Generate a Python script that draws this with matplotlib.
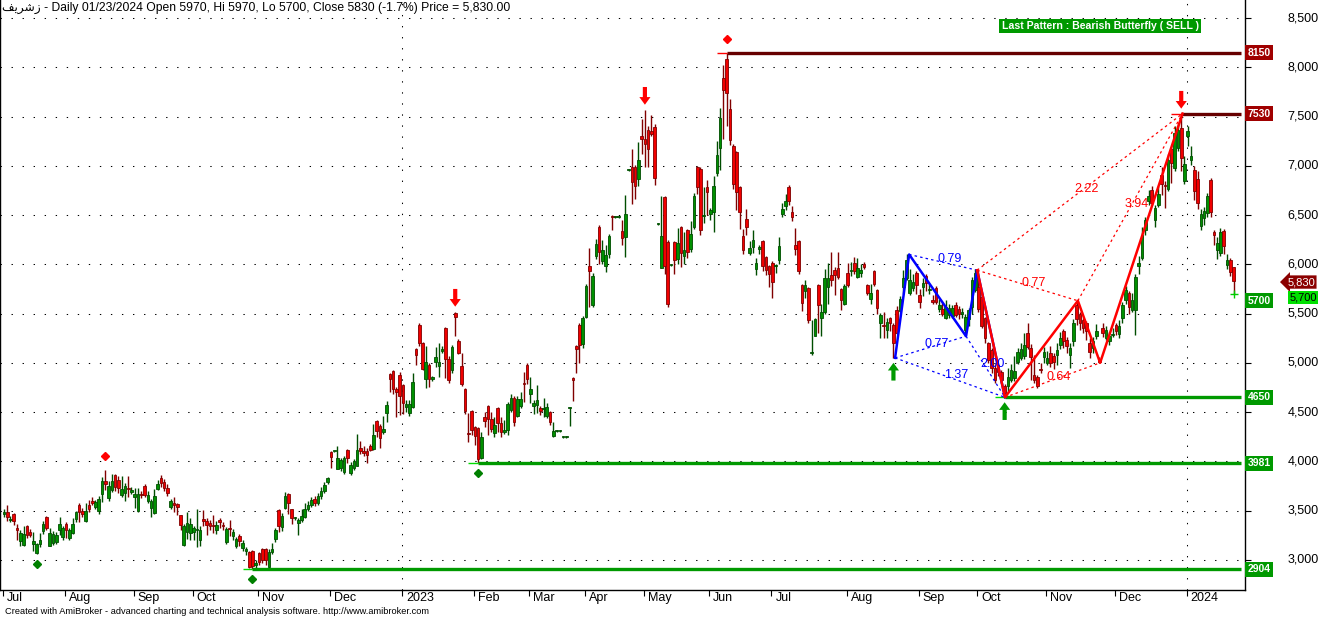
import numpy as np
import matplotlib
matplotlib.use("Agg")
import matplotlib.pyplot as plt
import matplotlib.transforms as mtransforms

plt.rcParams['font.family'] = ['Liberation Sans', 'DejaVu Sans']

# daily OHLC, Jul 2022 .. 23 Jan 2024
opens = [
    3470, 3490, 3400, 3470, 3320, 3190, 3150, 3340, 3280, 3160,
    3070, 3160, 3290, 3440, 3140, 3170, 3180, 3300, 3230, 3360,
    3220, 3270, 3410, 3560, 3500, 3390, 3560, 3600, 3540, 3500,
    3670, 3800, 3630, 3710, 3860, 3810, 3660, 3680, 3730, 3690,
    3640, 3500, 3670, 3750, 3600, 3530, 3480, 3720, 3830, 3790,
    3730, 3540, 3580, 3570, 3460, 3150, 3280, 3270, 3280, 3300,
    3200, 3410, 3390, 3370, 3350, 3300, 3400, 3350, 3180, 3320,
    3240, 3140, 3240, 3120, 3090, 3080, 3090, 2950, 3070, 3110,
    3110, 2930, 3080, 3210, 3510, 3330, 3530, 3670, 3520, 3420,
    3370, 3400, 3440, 3520, 3560, 3620, 3580, 3650, 3700, 3790,
    4090, 4100, 3920, 3930, 3890, 4120, 3880, 3930, 3950, 4140,
    4100, 4100, 4160, 4130, 4410, 4360, 4300, 4490, 4890, 4920,
    4730, 4880, 4770, 4550, 4490, 4550, 5140, 5380, 5200, 4840,
    4980, 4840, 5010, 4970, 5120, 5350, 5040, 4930, 5510, 5220,
    4970, 4730, 4290, 4510, 4350, 4340, 4030, 4450, 4560, 4430,
    4290, 4540, 4390, 4300, 4320, 4520, 4640, 4460, 4560, 4790,
    4980, 4680, 4560, 4570, 4540, 4530, 4460, 4500, 4260, 4310,
    4310, 4250, 4250, 4540, 4850, 5170, 5380, 5190, 5470, 5980,
    5590, 6080, 6380, 6030, 5980, 6100, 6490, 6480, 6480, 6340,
    6280, 6960, 6990, 6990, 6870, 7300, 7270, 7360, 7350, 7390,
    6410, 5960, 6680, 6230, 5990, 6230, 6050, 6380, 6080, 6350,
    6160, 6380, 6990, 6970, 6490, 6780, 6510, 6530, 6930, 7180,
    7890, 8080, 7580, 7200, 7140, 6780, 6290, 6460, 6110, 6180,
    5950, 6160, 6240, 6070, 5980, 6010, 5980, 6040, 6510, 6590,
    6780, 6530, 6200, 6240, 5790, 5730, 5760, 5100, 5270, 5790,
    5450, 5520, 5770, 5890, 5940, 5960, 5750, 5600, 5910, 5930,
    6010, 5870, 5910, 6000, 5790, 5650, 5930, 5740, 5400, 5380,
    5330, 5460, 5380, 5540, 5530, 5770, 5860, 5710, 5760, 5910,
    5690, 5770, 5880, 5740, 5640, 5760, 5550, 5550, 5460, 5490,
    5480, 5590, 5550, 5500, 5330, 5440, 5570, 5740, 5770, 5670,
    5450, 5200, 5130, 4950, 4980, 4910, 4760, 4760, 4830, 4850,
    5010, 5050, 5070, 5300, 5150, 4880, 4860, 4940, 5060, 5000,
    5100, 5070, 5080, 5180, 5320, 5230, 5080, 5220, 5590, 5500,
    5430, 5400, 5200, 5150, 5270, 5030, 5350, 5250, 5220, 5280,
    5380, 5290, 5450, 5640, 5710, 5540, 5540, 5980, 6060, 6350,
    6640, 6750, 6450, 6600, 6910, 6810, 6760, 7170, 6980, 7180,
    7380, 6850, 7300, 7060, 6960, 6870, 6390, 6470, 6520, 6860,
    6330, 6150, 6110, 6340, 5990, 6040, 5970,
]
highs = [
    3520, 3560, 3450, 3480, 3360, 3300, 3340, 3350, 3310, 3280,
    3170, 3270, 3390, 3450, 3320, 3290, 3280, 3440, 3340, 3380,
    3320, 3420, 3500, 3580, 3530, 3580, 3610, 3640, 3610, 3650,
    3840, 3910, 3800, 3870, 3870, 3850, 3850, 3780, 3850, 3740,
    3730, 3730, 3700, 3770, 3700, 3620, 3720, 3810, 3860, 3820,
    3770, 3620, 3640, 3580, 3460, 3360, 3490, 3420, 3340, 3520,
    3340, 3510, 3420, 3400, 3460, 3390, 3420, 3380, 3330, 3400,
    3310, 3230, 3260, 3200, 3130, 3090, 3100, 3000, 3080, 3120,
    3120, 3110, 3170, 3320, 3520, 3480, 3690, 3680, 3520, 3440,
    3420, 3520, 3580, 3600, 3640, 3650, 3680, 3740, 3790, 3840,
    4100, 4110, 4160, 4030, 4050, 4130, 3990, 4020, 4280, 4210,
    4160, 4140, 4180, 4380, 4420, 4380, 4460, 4610, 4900, 4930,
    4750, 4910, 4790, 4620, 4620, 4900, 5150, 5400, 5210, 5170,
    5000, 4870, 5160, 5200, 5170, 5360, 5070, 5180, 5520, 5240,
    5100, 4740, 4490, 4520, 4360, 4350, 4300, 4500, 4570, 4500,
    4450, 4550, 4450, 4420, 4600, 4680, 4660, 4660, 4700, 4910,
    5000, 4860, 4620, 4770, 4560, 4640, 4590, 4510, 4400, 4320,
    4320, 4260, 4260, 4550, 4860, 5180, 5400, 5480, 5800, 6170,
    5910, 6260, 6400, 6250, 6200, 6310, 6500, 6490, 6490, 6450,
    6700, 6970, 7170, 7010, 7240, 7470, 7570, 7400, 7520, 7420,
    6420, 6690, 6690, 6250, 6000, 6240, 6370, 6390, 6330, 6360,
    6440, 6720, 7000, 6990, 6780, 6860, 6570, 6900, 7250, 7590,
    8020, 8150, 7680, 7220, 7150, 6790, 6360, 6560, 6240, 6350,
    6060, 6200, 6250, 6080, 5990, 6030, 6000, 6280, 6620, 6710,
    6810, 6590, 6370, 6250, 5800, 5840, 5770, 5430, 5450, 5800,
    5600, 5950, 6010, 6120, 5970, 6130, 5760, 5800, 6010, 6020,
    6070, 6060, 6000, 6020, 5800, 5800, 5940, 5750, 5510, 5520,
    5450, 5470, 5400, 5580, 5680, 5940, 6100, 5950, 5900, 5930,
    5750, 5860, 5900, 5800, 5690, 5780, 5650, 5610, 5640, 5600,
    5590, 5620, 5580, 5560, 5500, 5560, 5870, 5950, 5940, 5700,
    5470, 5210, 5150, 4990, 5000, 4930, 4780, 4950, 4990, 5070,
    5150, 5200, 5300, 5400, 5190, 5080, 4880, 5000, 5160, 5120,
    5170, 5100, 5200, 5310, 5340, 5260, 5200, 5440, 5630, 5520,
    5460, 5420, 5250, 5260, 5390, 5060, 5400, 5370, 5310, 5350,
    5400, 5430, 5620, 5780, 5730, 5710, 5900, 6080, 6380, 6480,
    6750, 6800, 6600, 6790, 6990, 6850, 7120, 7190, 7400, 7420,
    7530, 7100, 7400, 7200, 7000, 6950, 6560, 6580, 6720, 6880,
    6350, 6280, 6370, 6360, 6100, 6060, 5970,
]
lows = [
    3440, 3390, 3380, 3350, 3200, 3140, 3140, 3220, 3230, 3090,
    3060, 3130, 3260, 3300, 3140, 3150, 3160, 3250, 3200, 3220,
    3200, 3260, 3380, 3380, 3430, 3380, 3490, 3560, 3520, 3470,
    3590, 3710, 3600, 3690, 3700, 3680, 3640, 3600, 3640, 3670,
    3530, 3490, 3630, 3640, 3580, 3440, 3470, 3710, 3740, 3700,
    3650, 3520, 3490, 3460, 3300, 3140, 3210, 3200, 3200, 3130,
    3140, 3340, 3250, 3300, 3270, 3260, 3320, 3300, 3160, 3240,
    3200, 3120, 3140, 3090, 3050, 2920, 2904, 2920, 2950, 2970,
    2950, 2920, 3060, 3180, 3280, 3290, 3520, 3470, 3360, 3400,
    3250, 3380, 3420, 3500, 3540, 3550, 3560, 3620, 3680, 3770,
    3930, 4090, 3920, 3900, 3870, 3980, 3860, 3910, 3950, 4070,
    4050, 3980, 4100, 4120, 4250, 4140, 4280, 4400, 4700, 4680,
    4450, 4470, 4480, 4500, 4460, 4540, 4980, 5170, 4930, 4740,
    4750, 4820, 4960, 4860, 5100, 4850, 4800, 4900, 5270, 5090,
    4760, 4480, 4200, 4270, 4170, 3981, 4020, 4350, 4270, 4300,
    4250, 4300, 4250, 4280, 4270, 4500, 4360, 4450, 4540, 4600,
    4780, 4590, 4480, 4490, 4470, 4450, 4440, 4370, 4250, 4300,
    4300, 4240, 4240, 4360, 4610, 4900, 5000, 5150, 5450, 5570,
    5570, 6050, 6000, 6000, 5920, 6060, 6350, 6470, 6470, 6200,
    6070, 6950, 6610, 6660, 6800, 7120, 6990, 6990, 7300, 6810,
    6400, 5960, 5900, 5570, 5980, 5900, 6000, 5970, 6000, 6060,
    6130, 6360, 6710, 6300, 6420, 6500, 6450, 6330, 6900, 6960,
    7270, 7400, 7210, 6760, 6550, 6360, 6100, 6300, 6090, 6110,
    5890, 6100, 5930, 5890, 5770, 5660, 5910, 6000, 6480, 6550,
    6600, 6440, 6090, 5900, 5530, 5660, 5400, 5080, 5270, 5300,
    5270, 5500, 5600, 5780, 5690, 5850, 5540, 5590, 5770, 5880,
    5900, 5860, 5870, 5950, 5690, 5600, 5780, 5500, 5250, 5250,
    5250, 5320, 5050, 5290, 5520, 5700, 5840, 5690, 5730, 5700,
    5560, 5680, 5730, 5700, 5600, 5600, 5520, 5480, 5440, 5460,
    5450, 5470, 5440, 5460, 5270, 5370, 5500, 5720, 5520, 5350,
    5200, 5000, 4900, 4800, 4870, 4800, 4650, 4700, 4810, 4820,
    4990, 5030, 5040, 5140, 4830, 4800, 4740, 4900, 5000, 4980,
    4960, 4940, 4980, 5140, 5150, 5100, 4950, 5170, 5380, 5330,
    5300, 5230, 5050, 5100, 5240, 5000, 5260, 5230, 5180, 5260,
    5280, 5250, 5400, 5600, 5500, 5520, 5280, 5900, 6040, 6300,
    6600, 6600, 6380, 6580, 6700, 6570, 6740, 6830, 6950, 7150,
    6950, 6820, 7200, 7010, 6650, 6560, 6350, 6400, 6480, 6480,
    6200, 6050, 6080, 6100, 5950, 5880, 5700,
]
closes = [
    3490, 3430, 3415, 3390, 3300, 3270, 3260, 3250, 3250, 3190,
    3160, 3200, 3360, 3320, 3270, 3260, 3250, 3360, 3320, 3300,
    3300, 3360, 3490, 3490, 3470, 3500, 3520, 3580, 3590, 3620,
    3800, 3770, 3750, 3800, 3740, 3730, 3720, 3750, 3720, 3710,
    3670, 3670, 3660, 3660, 3660, 3600, 3650, 3770, 3780, 3730,
    3680, 3600, 3560, 3540, 3350, 3340, 3370, 3360, 3320, 3310,
    3300, 3390, 3350, 3340, 3340, 3350, 3380, 3340, 3310, 3310,
    3280, 3210, 3190, 3170, 3110, 2930, 2940, 2970, 2980, 3000,
    3000, 3080, 3110, 3300, 3340, 3450, 3650, 3580, 3420, 3420,
    3400, 3450, 3520, 3560, 3610, 3580, 3650, 3700, 3760, 3830,
    4040, 4100, 4030, 4010, 4030, 4030, 3960, 4000, 4120, 4110,
    4080, 4060, 4120, 4270, 4310, 4240, 4330, 4570, 4840, 4730,
    4700, 4660, 4590, 4580, 4580, 4810, 5080, 5200, 4940, 5010,
    4840, 4840, 5060, 5010, 5140, 5040, 4830, 5160, 5470, 5100,
    4790, 4510, 4280, 4320, 4260, 4020, 4250, 4410, 4430, 4330,
    4370, 4390, 4300, 4320, 4580, 4640, 4400, 4630, 4630, 4780,
    4840, 4730, 4590, 4620, 4510, 4540, 4550, 4400, 4310, 4310,
    4310, 4250, 4250, 4540, 4830, 5140, 5180, 5460, 5780, 5930,
    5880, 6210, 6130, 6150, 6090, 6290, 6480, 6480, 6480, 6270,
    6510, 6960, 6840, 6800, 7060, 7270, 7220, 7170, 7320, 6880,
    6410, 6290, 5980, 5600, 5990, 6040, 6220, 6110, 6150, 6130,
    6310, 6690, 6780, 6350, 6500, 6730, 6550, 6790, 7110, 7490,
    7770, 7740, 7260, 6820, 6730, 6530, 6150, 6380, 6170, 6250,
    6010, 6160, 5980, 5940, 5900, 5820, 5980, 6190, 6560, 6640,
    6640, 6480, 6160, 5930, 5610, 5790, 5430, 5110, 5440, 5590,
    5520, 5860, 5860, 5840, 5890, 5870, 5640, 5780, 5790, 5930,
    5930, 5960, 5940, 5970, 5710, 5710, 5800, 5560, 5490, 5370,
    5410, 5400, 5200, 5300, 5650, 5860, 6040, 5840, 5820, 5790,
    5620, 5810, 5810, 5740, 5620, 5620, 5590, 5500, 5570, 5560,
    5560, 5490, 5500, 5520, 5470, 5540, 5840, 5910, 5550, 5370,
    5250, 5030, 4950, 4830, 4910, 4830, 4690, 4860, 4930, 4920,
    5110, 5140, 5180, 5160, 5060, 4830, 4760, 4930, 5110, 5050,
    5000, 5010, 5130, 5250, 5220, 5170, 5150, 5400, 5440, 5400,
    5350, 5320, 5110, 5220, 5320, 5010, 5300, 5330, 5270, 5290,
    5320, 5370, 5590, 5740, 5570, 5640, 5870, 6010, 6300, 6450,
    6690, 6620, 6570, 6710, 6820, 6790, 7060, 7030, 7330, 7360,
    7080, 7020, 7350, 7100, 6740, 6620, 6510, 6540, 6690, 6530,
    6300, 6220, 6330, 6190, 6040, 5920, 5830,
]

# first bar of each month
month_idx = [0, 19, 40, 58, 78, 100, 122, 144, 161, 178, 196, 216, 235, 258, 280, 298, 319, 340, 362]
month_lbl = ['Jul', 'Aug', 'Sep', 'Oct', 'Nov', 'Dec', '2023', 'Feb', 'Mar', 'Apr', 'May', 'Jun',
             'Jul', 'Aug', 'Sep', 'Oct', 'Nov', 'Dec', '2024']
year_idx = [122, 362]

# support / resistance levels: value, first bar, colour
level_vals = [8150, 7530, 4650, 3981, 2904]
level_start = [221, 360, 306, 145, 76]
level_col = ['#660000', '#660000', '#009900', '#009900', '#009900']

# swing markers
peak_idx = [31, 138, 196, 221, 360]
peak_kind = ['diamond', 'arrow', 'arrow', 'diamond', 'arrow']
trough_idx = [10, 76, 145, 272, 306]
trough_kind = ['diamond', 'diamond', 'diamond', 'arrow', 'arrow']

# harmonic patterns X, A, B, C, D
blue_idx = [272.5, 276.8, 294.2, 297.6, 306.1]
blue_val = [5050, 6100, 5270, 5940, 4650]
blue_ratio = ['0.77', '0.79', '2.00', '1.37']
red_idx = [297.6, 306.1, 328.4, 335.2, 360.4]
red_val = [5940, 4650, 5630, 5000, 7530]
red_ratio = ['0.77', '0.64', '3.94', '2.22']

title = ('\ufed2\ufbfe\ufeae\ufeb7\ufeaf - Daily 01/23/2024 Open 5970, Hi 5970, Lo 5700, '
         'Close 5830 (-1.7%) Price = 5,830.00')

W, H = 1336, 619
fig = plt.figure(figsize=(W / 100, H / 100), dpi=100)
fig.patch.set_facecolor('white')
ax = fig.add_axes([0, 29 / H, 1245 / W, 590 / H])
ax.set_xlim(-1.2, 379.5)
ax.set_ylim(2694, 8683)

o = np.array(opens, float)
hi = np.array(highs, float)
lo = np.array(lows, float)
c = np.array(closes, float)
x = np.arange(len(c))
up = c >= o
face = np.where(up, '#009000', '#f00000')
edge = np.where(up, '#004d00', '#800000')

# grid
for p in range(3000, 8501, 500):
    ax.axhline(p, color='black', lw=0.75, ls=(0, (1.3, 9.3)), zorder=0)
for yi in year_idx:
    ax.axvline(yi - 0.3, color='black', lw=0.75, ls=(0, (1.3, 9.3)), zorder=0)

# candles
ax.vlines(x, lo, hi, colors=edge, lw=1.0, zorder=2)
ax.bar(x, np.maximum(np.abs(c - o), 12), bottom=np.minimum(o, c), width=0.8,
       color=face, edgecolor=edge, linewidth=0.6, zorder=3)

# levels
for v, s, col in zip(level_vals, level_start, level_col):
    ax.hlines(v, s, 378.3, color=col, lw=2.4, zorder=4)
    thin = '#ff0000' if col == '#660000' else '#00dd00'
    ax.hlines(v, s - 3, s, color=thin, lw=1.0, zorder=4)

blend = mtransforms.blended_transform_factory(fig.transFigure, ax.transData)
tag_vals = level_vals + [5700]
tag_pos = level_vals + [5630]
tag_col = ['#a00000', '#a00000', '#009900', '#009900', '#009900', '#009900']
for v, yp, col in zip(tag_vals, tag_pos, tag_col):
    ax.text(1259 / W, yp, str(v), transform=blend, ha='center', va='center', fontsize=7.5,
            fontweight='bold', color='white', clip_on=False, zorder=6,
            bbox=dict(boxstyle='square,pad=0.22', fc=col, ec='none'))
ax.text(1301 / W, 5820, '5,830', transform=blend, ha='center', va='center', fontsize=8,
        color='white', clip_on=False, zorder=6,
        bbox=dict(boxstyle='larrow,pad=0.15', fc='#8b0000', ec='none'))
ax.text(1303 / W, 5665, '5,700', transform=blend, ha='center', va='center', fontsize=8,
        color='black', clip_on=False, zorder=6,
        bbox=dict(boxstyle='square,pad=0.15', fc='#00e000', ec='none'))
ax.plot([376], [5700], marker='+', color='#00cc00', ms=6, mew=1, zorder=6)

# swing markers
arrow_style = 'simple,head_width=0.8,head_length=0.55,tail_width=0.3'
for i, k in zip(peak_idx, peak_kind):
    if k == 'diamond':
        ax.plot(i, hi[i] + 140, marker='D', color='#ff0000', ms=4.5, zorder=6)
    else:
        ax.annotate('', xy=(i, hi[i] + 50), xytext=(i, hi[i] + 230),
                    arrowprops=dict(arrowstyle=arrow_style, color='#ff0000', lw=0,
                                    shrinkA=0, shrinkB=0), zorder=6)
for i, k in zip(trough_idx, trough_kind):
    if k == 'diamond':
        ax.plot(i, lo[i] - 100, marker='D', color='#008000', ms=4.5, zorder=6)
    else:
        ax.annotate('', xy=(i, lo[i] - 50), xytext=(i, lo[i] - 230),
                    arrowprops=dict(arrowstyle=arrow_style, color='#009900', lw=0,
                                    shrinkA=0, shrinkB=0), zorder=6)


def pattern(px, pv, ratios, col):
    ax.plot(px, pv, color=col, lw=1.8, zorder=5)
    pairs = [(0, 2), (1, 3), (2, 4), (0, 4)]
    for (a, b), r in zip(pairs, ratios):
        ax.plot([px[a], px[b]], [pv[a], pv[b]], color=col, lw=0.9, ls=(0, (2, 2.5)), zorder=5)
        ax.text((px[a] + px[b]) / 2 + 2, (pv[a] + pv[b]) / 2 + 30, r, color=col,
                fontsize=9, ha='center', va='center', zorder=6)


pattern(blue_idx, blue_val, blue_ratio, '#0000ff')
pattern(red_idx, red_val, red_ratio, '#ff0000')

# axes styling
ax.spines['top'].set_visible(False)
for s in ['left', 'right', 'bottom']:
    ax.spines[s].set_color('black')
    ax.spines[s].set_linewidth(1)
ax.yaxis.tick_right()
ax.set_yticks(range(3000, 8501, 500))
ax.set_yticklabels([])
ax.tick_params(axis='y', length=4, width=0.8)
for p in range(3000, 8501, 500):
    ax.text(1319 / W, p, f'{p:,}', transform=blend, ha='right', va='center', fontsize=9)
ax.set_xticks([m - 0.3 for m in month_idx])
ax.set_xticklabels([])
ax.tick_params(axis='x', length=4, width=0.8)
xblend = mtransforms.blended_transform_factory(ax.transData, fig.transFigure)
for m, lb in zip(month_idx, month_lbl):
    ax.text(m + 0.9, 1 - 598 / H, lb, transform=xblend, ha='left', va='center', fontsize=9)

fig.text(2 / W, 1 - 8 / H, title, ha='left', va='center', fontsize=8.7)
fig.text(1100 / W, 1 - 26 / H, 'Last Pattern : Bearish Butterfly ( SELL )', ha='center', va='center',
         fontsize=7.6, fontweight='bold', color='white',
         bbox=dict(boxstyle='square,pad=0.2', fc='#009900', ec='none'))
fig.text(5 / W, 1 - 612 / H, 'Created with AmiBroker - advanced charting and technical analysis software. '
         'http://www.amibroker.com', ha='left', va='center', fontsize=6.7)

fig.savefig('out.png', dpi=100, facecolor='white')
